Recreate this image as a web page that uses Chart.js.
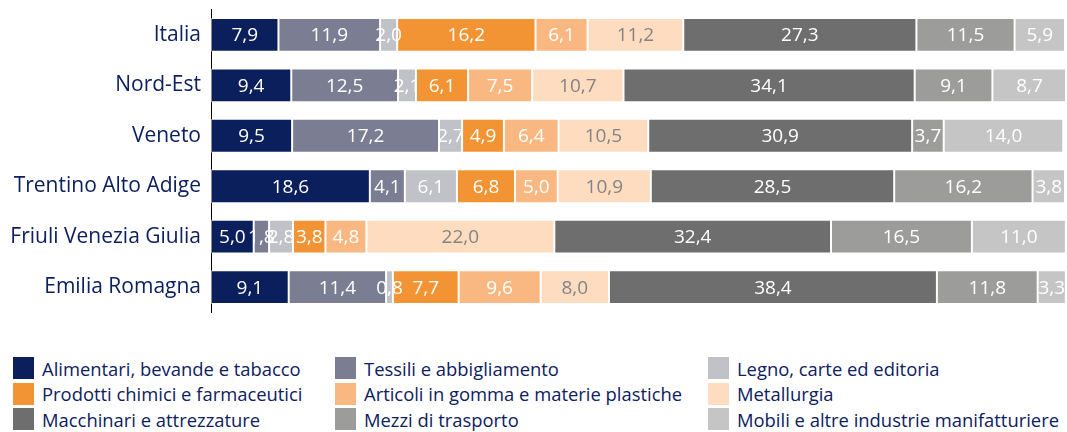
<!DOCTYPE html>
<html>
<head>
<meta charset="utf-8">
<script src="https://cdn.jsdelivr.net/npm/chart.js@4.4.1/dist/chart.umd.min.js"></script>
<style>
  html, body { margin: 0; padding: 0; background: #ffffff; }
  body { width: 1067px; height: 432px; position: relative; overflow: hidden; font-family: "Open Sans", sans-serif; }
  #wrap { position: absolute; left: 0; top: -13px; width: 1067px; height: 348px; }
  #legend { position: absolute; left: 0; top: 357px; width: 1067px; }
  .item { position: absolute; height: 22px; display: flex; align-items: center; color: #0d2060; font-size: 18.4px; white-space: nowrap; }
  .box { width: 21px; height: 22px; margin-right: 8px; flex: none; }
</style>
</head>
<body>
<div id="wrap"><canvas id="c"></canvas></div>
<div id="legend"></div>
<script>
const categories = ["Italia", "Nord-Est", "Veneto", "Trentino Alto Adige", "Friuli Venezia Giulia", "Emilia Romagna"];
const seriesNames = [
  "Alimentari, bevande e tabacco", "Tessili e abbigliamento", "Legno, carte ed editoria",
  "Prodotti chimici e farmaceutici", "Articoli in gomma e materie plastiche", "Metallurgia",
  "Macchinari e attrezzature", "Mezzi di trasporto", "Mobili e altre industrie manifatturiere"
];
const alimentari = [7.9, 9.4, 9.5, 18.6, 5.0, 9.1];
const tessili     = [11.9, 12.5, 17.2, 4.1, 1.8, 11.4];
const legno       = [2.0, 2.1, 2.7, 6.1, 2.8, 0.8];
const chimici     = [16.2, 6.1, 4.9, 6.8, 3.8, 7.7];
const gomma       = [6.1, 7.5, 6.4, 5.0, 4.8, 9.6];
const metallurgia = [11.2, 10.7, 10.5, 10.9, 22.0, 8.0];
const macchinari  = [27.3, 34.1, 30.9, 28.5, 32.4, 38.4];
const mezzi       = [11.5, 9.1, 3.7, 16.2, 16.5, 11.8];
const mobili      = [5.9, 8.7, 14.0, 3.8, 11.0, 3.3];

const seriesValues = [alimentari, tessili, legno, chimici, gomma, metallurgia, macchinari, mezzi, mobili];
const colors = ["#0b1f5c", "#7b7e92", "#c1c2c7", "#f39434", "#f9b881", "#fddcc0", "#6e6e6e", "#9c9c9a", "#c5c5c5"];
const labelColors = ["#ffffff", "#ffffff", "#ffffff", "#ffffff", "#ffffff", "#848484", "#ffffff", "#ffffff", "#ffffff"];
const FONT = '"Open Sans", sans-serif';

const datasets = seriesNames.map((name, i) => ({
  label: name,
  data: seriesValues[i],
  backgroundColor: colors[i],
  borderColor: "rgba(255,255,255,0.55)",
  borderWidth: 1,
  borderSkipped: false,
  categoryPercentage: 1,
  barPercentage: 0.67
}));

const valueLabels = {
  id: "valueLabels",
  afterDatasetsDraw(chart) {
    const ctx = chart.ctx;
    ctx.save();
    ctx.font = "19px " + FONT;
    ctx.textAlign = "center";
    ctx.textBaseline = "middle";
    chart.data.datasets.forEach((ds, i) => {
      const meta = chart.getDatasetMeta(i);
      meta.data.forEach((bar, j) => {
        const v = ds.data[j];
        const cx = (bar.x + bar.base) / 2;
        ctx.fillStyle = labelColors[i];
        ctx.fillText(v.toFixed(1).replace(".", ","), cx, bar.y + 1);
      });
    });
    ctx.restore();
  }
};

new Chart(document.getElementById("c"), {
  type: "bar",
  data: { labels: categories, datasets },
  options: {
    indexAxis: "y",
    responsive: true,
    maintainAspectRatio: false,
    animation: false,
    layout: { padding: { top: 0, bottom: 0, right: 2, left: 0 } },
    plugins: { legend: { display: false }, tooltip: { enabled: false } },
    scales: {
      x: { stacked: true, min: 0, max: 100, display: false },
      y: {
        stacked: true,
        grid: { display: false, drawTicks: false },
        border: { display: true, color: "#000000", width: 1 },
        ticks: { color: "#0d2060", font: { family: FONT, size: 21 }, padding: 10 },
        afterFit(scale) { scale.width = 211; }
      }
    }
  },
  plugins: [valueLabels]
});

// HTML legend built from the series arrays (3 columns, row-major)
const colX = [13, 335, 708];
const rowY = [0, 25.5, 51];
const legend = document.getElementById("legend");
seriesNames.forEach((name, i) => {
  const el = document.createElement("div");
  el.className = "item";
  el.style.left = colX[i % 3] + "px";
  el.style.top = rowY[Math.floor(i / 3)] + "px";
  el.innerHTML = '<span class="box" style="background:' + colors[i] + '"></span><span>' + name + '</span>';
  legend.appendChild(el);
});
</script>
</body>
</html>
